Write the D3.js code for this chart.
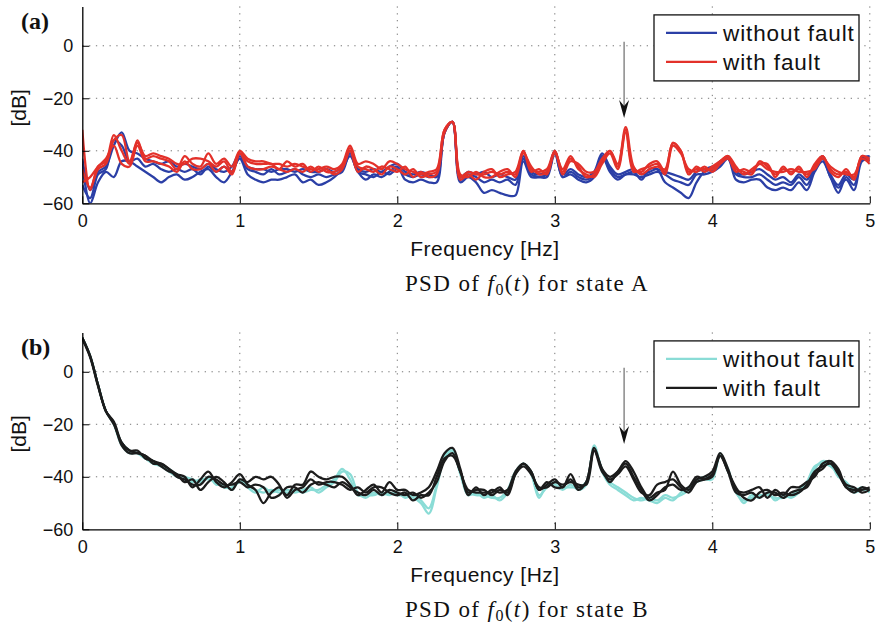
<!DOCTYPE html>
<html>
<head>
<meta charset="utf-8">
<script src="https://cdn.jsdelivr.net/npm/d3@7"></script>
<style>
  body { margin: 0; background: #fff; }
</style>
</head>
<body>
<div id="chart"></div>
<script>
// frequency grid [Hz], 0.05 Hz spacing
const freqs = d3.range(101).map((i) => +(i * 0.05).toFixed(2));
const yTicks = [0, -20, -40, -60];
const xTicks = [0, 1, 2, 3, 4, 5];

// state A, without fault (blue)
const aNoFault1 = [
  -45, -60, -52, -48, -50, -44, -44, -46, -48, -50, -52, -50, -49, -51, -50, -48, -47, -50, -52, -48,
  -43, -49, -51, -52, -51, -51, -50, -49, -52, -51, -53, -52, -50, -47, -42, -48, -51, -49, -50, -48,
  -46, -51, -52, -51, -52, -52, -33, -29, -52, -50, -52, -56, -55, -56, -57, -57, -44, -50, -50, -49,
  -41, -50, -49, -51, -52, -50, -42, -47, -50, -49, -48, -51, -47, -47, -52, -54, -56, -58, -52, -48,
  -47, -44, -43, -51, -52, -51, -51, -54, -55, -54, -55, -52, -55, -48, -44, -50, -56, -50, -53, -43, -42,
];
const aNoFault2 = [
  -43, -55, -48, -46, -38, -33, -40, -41, -43, -44, -45, -44, -46, -45, -46, -47, -45, -47, -48, -46,
  -41, -46, -47, -47, -48, -47, -47, -48, -47, -48, -48, -47, -48, -46, -40, -47, -48, -47, -48, -46,
  -45, -48, -49, -48, -49, -50, -33, -29, -50, -48, -49, -48, -50, -49, -50, -51, -42, -48, -49, -48,
  -40, -49, -47, -49, -50, -48, -41, -46, -49, -48, -47, -49, -48, -47, -48, -49, -50, -51, -48, -47,
  -46, -45, -42, -48, -49, -48, -47, -49, -51, -50, -52, -49, -51, -46, -42, -49, -53, -49, -51, -43, -44,
];
const aNoFault3 = [
  -53, -58, -49, -47, -36, -38, -44, -43, -46, -45, -47, -48, -47, -48, -47, -49, -46, -48, -46, -48,
  -42, -47, -48, -49, -47, -49, -48, -47, -49, -50, -49, -50, -49, -48, -41, -48, -49, -50, -48, -49,
  -47, -49, -50, -49, -50, -49, -33, -29, -51, -49, -50, -52, -51, -52, -51, -53, -43, -49, -50, -50,
  -41, -50, -48, -50, -51, -49, -42, -48, -51, -49, -49, -50, -49, -48, -49, -51, -52, -53, -49, -49,
  -48, -46, -43, -49, -50, -50, -49, -51, -53, -52, -53, -50, -53, -47, -43, -50, -54, -51, -55, -44, -43,
];
// state A, with fault (red)
const aFault1 = [
  -32, -55, -46, -44, -34, -40, -45, -36, -43, -42, -43, -44, -47, -42, -45, -46, -41, -45, -43, -46,
  -40, -43, -44, -44, -45, -45, -46, -45, -46, -47, -47, -46, -47, -45, -38, -45, -44, -45, -47, -44,
  -45, -47, -48, -49, -48, -47, -32, -29, -50, -48, -49, -49, -48, -49, -48, -49, -40, -47, -48, -47,
  -40, -48, -43, -46, -50, -49, -44, -40, -46, -32, -47, -48, -45, -44, -48, -37, -40, -48, -47, -47,
  -47, -44, -42, -47, -48, -49, -44, -46, -49, -47, -48, -47, -49, -46, -42, -47, -49, -48, -50, -42, -44,
];
const aFault2 = [
  -47, -54, -47, -45, -36, -34, -44, -37, -42, -41, -42, -43, -45, -45, -43, -43, -44, -46, -44, -48,
  -41, -44, -45, -45, -45, -47, -44, -46, -45, -48, -46, -48, -48, -46, -39, -46, -47, -48, -46, -47,
  -48, -46, -50, -48, -50, -49, -33, -29, -49, -50, -48, -50, -50, -48, -47, -50, -41, -46, -49, -48,
  -41, -47, -42, -47, -49, -50, -45, -41, -47, -33, -48, -47, -46, -45, -49, -38, -41, -47, -48, -46,
  -48, -45, -43, -48, -47, -48, -45, -47, -48, -48, -47, -48, -48, -47, -43, -46, -48, -49, -49, -43, -45,
];
const aFault3 = [
  -52, -50, -46, -43, -38, -45, -46, -38, -44, -44, -45, -46, -48, -44, -47, -47, -45, -48, -46, -49,
  -41, -46, -47, -47, -46, -47, -48, -47, -48, -46, -48, -47, -49, -47, -40, -48, -46, -47, -49, -46,
  -47, -49, -47, -50, -49, -48, -32, -29, -51, -49, -51, -48, -47, -50, -49, -48, -40, -48, -47, -49,
  -40, -49, -44, -45, -48, -48, -43, -40, -45, -31, -46, -49, -47, -46, -47, -37, -40, -49, -46, -48,
  -46, -44, -42, -46, -49, -47, -45, -45, -50, -46, -49, -46, -50, -45, -42, -48, -50, -47, -51, -42, -43,
];

// state B, without fault (cyan)
const bNoFault1 = [
  13, 6, -5, -15, -20, -28, -31, -31, -33, -35, -36, -38,
  -40, -41, -42, -41, -41, -42, -44, -44,
  -42, -43, -45, -46, -45, -46, -45, -46, -45, -44, -46, -44, -42, -38, -39, -46, -48, -46, -47, -46,
  -47, -47, -48, -50, -54, -44, -33, -30, -39, -47, -46, -48, -47, -49, -46, -39, -35, -39, -48, -43,
  -43, -45, -43, -45, -43, -28, -38, -43, -45, -47, -49, -48, -49, -50, -48, -49, -46, -44, -42, -41,
  -41, -31, -38, -45, -50, -47, -48, -46, -49, -47, -48, -46, -43, -37, -34, -35, -40, -42, -45, -44, -46,
];
const bNoFault2 = [
  13, 6, -5, -15, -19.5, -27, -30, -31, -33, -34, -36, -37,
  -39, -40, -41, -42, -40, -43, -43, -45,
  -41, -44, -46, -44, -46, -45, -46, -45, -46, -45, -45, -43, -41, -37, -41, -47, -47, -47, -46, -47,
  -46, -48, -47, -49, -52, -43, -32, -30, -38, -46, -47, -47, -48, -48, -45, -38, -35, -38, -47, -44,
  -42, -44, -44, -44, -42, -29, -37, -42, -44, -46, -48, -49, -48, -49, -47, -48, -47, -45, -41, -40,
  -40, -32, -37, -46, -49, -48, -47, -47, -48, -48, -47, -45, -42, -36, -35, -36, -39, -43, -46, -45, -45,
];
// state B, with fault (black)
const bFault1 = [
  13, 6, -5, -15, -19, -27, -30, -31, -32, -34, -35, -37,
  -39, -40, -44, -41, -38, -42, -44, -42,
  -39, -43, -45, -50, -46, -44, -47, -43, -43, -38, -40, -41, -40, -40, -43, -47, -45, -43, -46, -42,
  -45, -45, -47, -46, -44, -38, -31, -29, -37, -47, -44, -47, -45, -46, -45, -38, -35, -38, -45, -43,
  -41, -44, -39, -44, -42, -29, -37, -40, -38, -34, -38, -44, -48, -46, -45, -38, -43, -45, -41, -40,
  -38, -31, -37, -45, -46, -45, -44, -48, -45, -47, -44, -44, -42, -40, -35, -34, -38, -43, -44, -46, -45,
];
const bFault2 = [
  13, 6, -5, -15, -20, -27, -30, -30, -33, -34, -36, -38,
  -39, -42, -41, -45, -42, -40, -42, -45,
  -41, -42, -40, -41, -40, -43, -48, -45, -44, -41, -43, -42, -42, -43, -45, -44, -46, -44, -44, -46,
  -47, -46, -49, -47, -47, -40, -33, -32, -38, -46, -45, -45, -47, -45, -46, -39, -36, -39, -44, -44,
  -42, -43, -42, -43, -43, -30, -38, -41, -39, -36, -41, -46, -47, -43, -42, -41, -44, -46, -42, -41,
  -39, -32, -38, -44, -48, -49, -46, -45, -47, -46, -47, -46, -43, -38, -36, -35, -39, -44, -46, -44, -45,
];
const bFault3 = [
  12.5, 5.5, -5.5, -15, -19.5, -28, -31, -31, -32, -35, -35, -37,
  -40, -41, -43, -43, -40, -41, -43, -43,
  -42, -44, -43, -44, -48, -47, -44, -44, -46, -43, -42, -43, -44, -42, -44, -46, -47, -45, -47, -45,
  -46, -47, -46, -48, -46, -42, -34, -31, -38, -45, -46, -46, -46, -44, -47, -39, -35, -38, -45, -42,
  -44, -44, -41, -45, -42, -30, -37, -42, -38, -35, -40, -45, -49, -47, -44, -43, -45, -44, -40, -41,
  -40, -32, -38, -46, -47, -46, -48, -46, -46, -48, -46, -45, -44, -39, -37, -34, -37, -44, -45, -45, -44,
];

const legendLabels = ["without fault", "with fault"];

const sans = '"Liberation Sans", Arial, Helvetica, sans-serif';
const serif = '"Liberation Serif", "Times New Roman", serif';

const width = 877;
const height = 636;
const svg = d3.select("#chart").append("svg").attr("width", width).attr("height", height);

const panels = [
  {
    tag: "(a)", state: "A", top: 6.4, bottom: 203.3,
    groups: [
      { color: "#2b3fa6", series: [aNoFault1, aNoFault2, aNoFault3] },
      { color: "#e3312a", series: [aFault1, aFault2, aFault3] },
    ],
  },
  {
    tag: "(b)", state: "B", top: 332.4, bottom: 529.3,
    groups: [
      { color: "#8adcd6", series: [bNoFault1, bNoFault2] },
      { color: "#1c1c1c", series: [bFault1, bFault2, bFault3] },
    ],
  },
];

const x = d3.scaleLinear().domain([0, 5]).range([82.3, 869.8]);
const minus = (d) => (d < 0 ? "\u2212" + Math.abs(d) : String(d));

panels.forEach((p, pi) => {
  const y = d3.scaleLinear().domain([-60, 15]).range([p.bottom, p.top]);
  const g = svg.append("g");
  const clipId = "clip" + pi;
  g.append("clipPath").attr("id", clipId).append("rect")
    .attr("x", x(0)).attr("y", y(15)).attr("width", x(5) - x(0)).attr("height", y(-60) - y(15));

  // dotted grid
  const grid = g.append("g").attr("stroke", "#777").attr("stroke-width", 1).attr("stroke-dasharray", "1.3,5.5");
  grid.selectAll(".gx").data(xTicks.slice(1)).join("line")
    .attr("x1", (d) => x(d)).attr("x2", (d) => x(d)).attr("y1", y(15)).attr("y2", y(-60));
  grid.selectAll(".gy").data(yTicks.slice(0, 3)).join("line")
    .attr("x1", x(0)).attr("x2", x(5)).attr("y1", (d) => y(d)).attr("y2", (d) => y(d));

  const line = d3.line()
    .x((d, i) => x(freqs[i]))
    .y((d) => y(d))
    .curve(d3.curveCatmullRom.alpha(0.5));

  const curves = g.append("g").attr("clip-path", `url(#${clipId})`);
  p.groups.forEach((grp) => {
    curves.append("g").selectAll("path").data(grp.series).join("path")
      .attr("fill", "none")
      .attr("stroke", grp.color)
      .attr("stroke-width", 2.3)
      .attr("stroke-linejoin", "round")
      .attr("d", (d) => line(d));
  });

  // axes
  const xAxis = g.append("g")
    .attr("transform", `translate(0,${y(-60)})`)
    .call(d3.axisBottom(x).tickValues(xTicks).tickFormat(d3.format("d")).tickSizeInner(-7).tickSizeOuter(0).tickPadding(11));
  const yAxis = g.append("g")
    .attr("transform", `translate(${x(0)},0)`)
    .call(d3.axisLeft(y).tickValues(yTicks).tickFormat(minus).tickSizeInner(-7).tickSizeOuter(0).tickPadding(9));
  [xAxis, yAxis].forEach((ax) => {
    ax.select(".domain").attr("stroke", "#000").attr("stroke-width", 1.3);
    ax.selectAll(".tick line").attr("stroke", "#000");
    ax.selectAll("text").attr("fill", "#111")
      .style("font-family", sans).style("font-size", "18px");
  });

  // labels
  g.append("text").attr("transform", `translate(26,${(y(15) + y(-60)) / 2 + 3}) rotate(-90)`)
    .attr("text-anchor", "middle").attr("fill", "#111")
    .style("font-family", sans).style("font-size", "21px").text("[dB]");
  g.append("text").attr("x", 485).attr("y", y(-60) + 53)
    .attr("text-anchor", "middle").attr("fill", "#111")
    .style("font-family", sans).style("font-size", "21px").style("letter-spacing", "0.5px")
    .text("Frequency [Hz]");
  g.append("text").attr("x", 21).attr("y", y(15) + 23)
    .attr("fill", "#111")
    .style("font-family", serif).style("font-weight", "bold").style("font-size", "24px")
    .text(p.tag);

  const cap = g.append("text").attr("x", 527).attr("y", y(-60) + 88)
    .attr("text-anchor", "middle").attr("fill", "#111")
    .style("font-family", serif).style("font-size", "23px").style("letter-spacing", "1.4px");
  cap.append("tspan").text("PSD of ");
  cap.append("tspan").style("font-style", "italic").text("f");
  cap.append("tspan").style("font-size", "16px").attr("dy", 4).text("0");
  cap.append("tspan").attr("dy", -4).text("(");
  cap.append("tspan").style("font-style", "italic").text("t");
  cap.append("tspan").text(") for state " + p.state);

  // arrow marking the fault frequency
  const ax0 = x(3.44);
  const tipY = y(-27.5);
  g.append("line").attr("x1", ax0).attr("x2", ax0).attr("y1", y(1.5)).attr("y2", tipY - 8)
    .attr("stroke", "#777").attr("stroke-width", 1.3);
  g.append("path")
    .attr("d", `M${ax0},${tipY} L${ax0 - 5},${tipY - 18} L${ax0},${tipY - 12} L${ax0 + 5},${tipY - 18} Z`)
    .attr("fill", "#111");

  // legend
  const lg = g.append("g").attr("transform", `translate(654,${y(15) + 8.5})`);
  lg.append("rect").attr("width", 205).attr("height", 66)
    .attr("fill", "#fff").attr("stroke", "#111").attr("stroke-width", 1.3);
  legendLabels.forEach((lab, i) => {
    const ly = 18 + i * 29;
    lg.append("line").attr("x1", 12).attr("x2", 63).attr("y1", ly).attr("y2", ly)
      .attr("stroke", p.groups[i].color).attr("stroke-width", 2.3);
    lg.append("text").attr("x", 69).attr("y", ly + 8).attr("fill", "#111")
      .style("font-family", sans).style("font-size", "22.5px").style("letter-spacing", "0.9px")
      .text(lab);
  });
});
</script>
</body>
</html>
